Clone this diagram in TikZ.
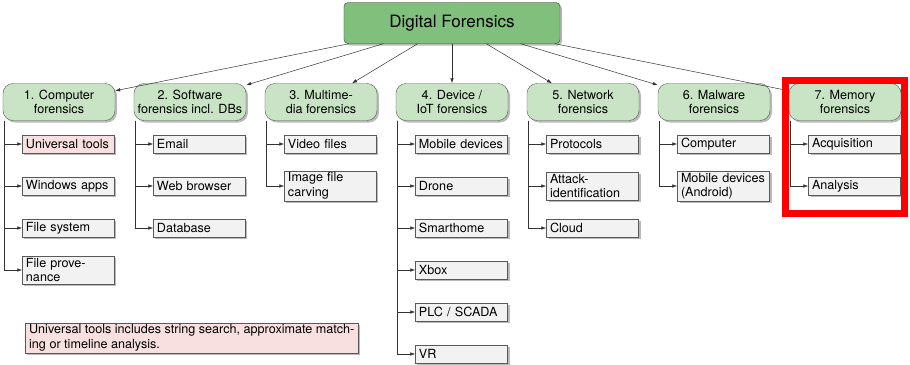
\documentclass[tikz,border=0pt]{standalone}
\usepackage{fontspec}
\setmainfont{TeX Gyre Heros}
\usetikzlibrary{positioning,shadows,arrows.meta}
\definecolor{rootgreen}{RGB}{128,192,124}
\definecolor{catgreen}{RGB}{200,228,196}
\definecolor{leafgray}{RGB}{242,242,242}
\definecolor{notepink}{RGB}{248,224,224}
\tikzset{
  boxshadow/.style={drop shadow={shadow xshift=2pt,shadow yshift=-2pt,fill=black!45,opacity=0.6}},
  rootbox/.style={draw=black!75, fill=rootgreen, rounded corners=4pt, minimum width=216pt, minimum height=41pt, font=\fontsize{17}{20}\selectfont, boxshadow},
  catbox/.style={draw=black!65, fill=catgreen, rounded corners=10pt, minimum width=112pt, minimum height=37pt, inner sep=2pt, align=center, boxshadow},
  leafbox/.style={draw=black!65, fill=leafgray, minimum height=18pt, text width=85pt, inner xsep=3.5pt, inner ysep=2pt, align=left, boxshadow},
  notebox/.style={draw=black!65, fill=notepink, inner xsep=4pt, inner ysep=2pt, align=left, boxshadow},
  link/.style={draw=black!80, line width=0.5pt, -{Latex[length=5pt,width=3.5pt]}},
  memframe/.style={draw=red, line width=7pt}
}

\begin{document}
\begin{tikzpicture}[font=\fontsize{12.6}{14.5}\selectfont]
      \useasboundingbox (-452pt,23pt) rectangle (458pt,-341pt);
      \node[rootbox] (root) at (0,0) {Digital Forensics};
      \node[catbox, on grid, below left=79pt and 393pt of root] (C1) {1. Computer\\forensics};
      \node[catbox, on grid, right=131pt of C1] (C2) {2. Software\\forensics incl. DBs};
      \node[catbox, on grid, right=131pt of C2] (C3) {3. Multime-\\dia forensics};
      \node[catbox, on grid, right=131pt of C3] (C4) {4. Device /\\IoT forensics};
      \node[catbox, on grid, right=131pt of C4] (C5) {5. Network\\forensics};
      \node[catbox, on grid, right=131pt of C5] (C6) {6. Malware\\forensics};
      \node[catbox, on grid, right=131pt of C6] (C7) {7. Memory\\forensics};
      \node[leafbox, fill=notepink, on grid, below right=42pt and 9.5pt of C1] (C1a) {Universal tools};
      \node[leafbox, on grid, below=42pt of C1a] (C1b) {Windows apps};
      \node[leafbox, on grid, below=42pt of C1b] (C1c) {File system};
      \node[leafbox, on grid, below=42pt of C1c] (C1d) {File prove-\\nance};
      \node[leafbox, on grid, below right=42pt and 9.5pt of C2] (C2a) {Email};
      \node[leafbox, on grid, below=42pt of C2a] (C2b) {Web browser};
      \node[leafbox, on grid, below=42pt of C2b] (C2c) {Database};
      \node[leafbox, on grid, below right=42pt and 9.5pt of C3] (C3a) {Video files};
      \node[leafbox, on grid, below=42pt of C3a] (C3b) {Image file\\carving};
      \node[leafbox, on grid, below right=42pt and 9.5pt of C4] (C4a) {Mobile devices};
      \node[leafbox, on grid, below=42pt of C4a] (C4b) {Drone};
      \node[leafbox, on grid, below=42pt of C4b] (C4c) {Smarthome};
      \node[leafbox, on grid, below=42pt of C4c] (C4d) {Xbox};
      \node[leafbox, on grid, below=42pt of C4d] (C4e) {PLC / SCADA};
      \node[leafbox, on grid, below=42pt of C4e] (C4f) {VR};
      \node[leafbox, on grid, below right=42pt and 9.5pt of C5] (C5a) {Protocols};
      \node[leafbox, on grid, below=42pt of C5a] (C5b) {Attack-\\identification};
      \node[leafbox, on grid, below=42pt of C5b] (C5c) {Cloud};
      \node[leafbox, on grid, below right=42pt and 9.5pt of C6] (C6a) {Computer};
      \node[leafbox, on grid, below=42pt of C6a] (C6b) {Mobile devices\\(Android)};
      \node[leafbox, on grid, below right=42pt and 9.5pt of C7] (C7a) {Acquisition};
      \node[leafbox, on grid, below=42pt of C7a] (C7b) {Analysis};
      \node[notebox, anchor=west] (note) at (-427pt,-315pt) {Universal tools includes string search, approximate match-\\ing or timeline analysis.};
      \foreach \i in {1,...,7}
        \draw[link] (root) -- (C\i);
      \foreach \p/\ks in {C1/{a,b,c,d},C2/{a,b,c},C3/{a,b},C4/{a,b,c,d,e,f},C5/{a,b,c},C6/{a,b},C7/{a,b}}
        \foreach \k in \ks
          \draw[link] ([xshift=1pt]\p.south west) |- (\p\k);
      \draw[memframe] ([shift={(-3.5pt,3pt)}]C7.north west) rectangle ([shift={(4pt,-18.5pt)}]C7b.south east);
    \end{tikzpicture}
\end{document}
